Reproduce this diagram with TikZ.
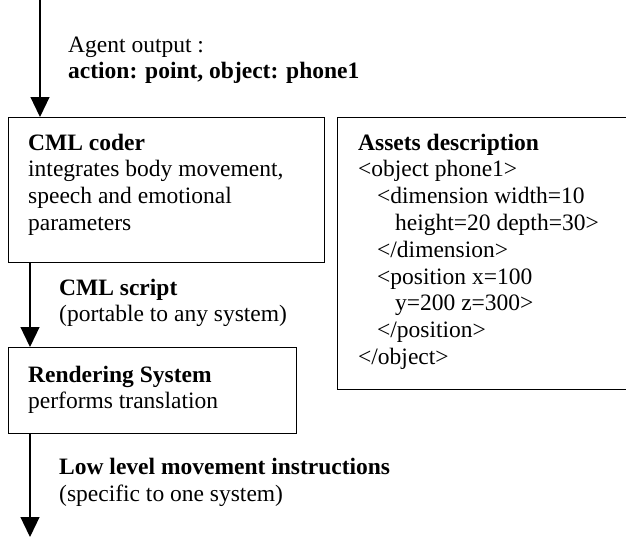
\documentclass[tikz,border=0pt]{standalone}
\usepackage{fontspec}
\setmainfont{Liberation Serif}
\usetikzlibrary{arrows.meta}
\begin{document}
\begin{tikzpicture}[x=1pt,y=-1pt,
  box/.style={draw,line width=1.3pt,inner sep=0pt,anchor=north west},
  lbl/.style={anchor=base west,inner sep=0pt,align=left,
    font=\fontsize{23.5}{26.8}\selectfont},
  arr/.style={line width=1.2pt,-{Triangle[length=20pt,width=19pt]}}]
\useasboundingbox (0,0) rectangle (626,539);
\clip (0,0) rectangle (626,539);
% boxes
\node[box,minimum width=316pt,minimum height=145pt] (cml) at (8,117) {};
\node[box,minimum width=288pt,minimum height=86pt] (render) at (8,347) {};
\node[box,minimum width=300pt,minimum height=272pt] (assets) at (337,117) {};
% texts (anchored at the baseline of their last line)
\node[lbl] (agent) at (68,78.8) {Agent output :\\\textbf{action: point, object: phone1}};
\node[lbl] (cmltext) at (28,230.4) {\textbf{CML coder}\\integrates body movement,\\speech and emotional\\parameters};
\node[lbl] (script) at (59,321.8) {\textbf{CML script}\\(portable to any system)};
\node[lbl] (rendtext) at (28,408.8) {\textbf{Rendering System}\\performs translation};
\node[lbl] (low) at (59,501) {\textbf{Low level movement instructions}\\(specific to one system)};
\node[lbl] (assettext) at (358,364.4) {\textbf{Assets description}\\
<object phone1>\\
\hspace*{19pt}<dimension width=10\\
\hspace*{37pt}height=20 depth=30>\\
\hspace*{19pt}</dimension>\\
\hspace*{19pt}<position x=100\\
\hspace*{37pt}y=200 z=300>\\
\hspace*{19pt}</position>\\
</object>};
% connectors
\coordinate (in) at (40,0);
\coordinate (out) at (30,537);
\draw[arr] (in) -- ([xshift=32pt]cml.north west);
\draw[arr] ([xshift=22pt]cml.south west) -- ([xshift=22pt]render.north west);
\draw[arr] ([xshift=22pt]render.south west) -- (out);
\end{tikzpicture}
\end{document}
